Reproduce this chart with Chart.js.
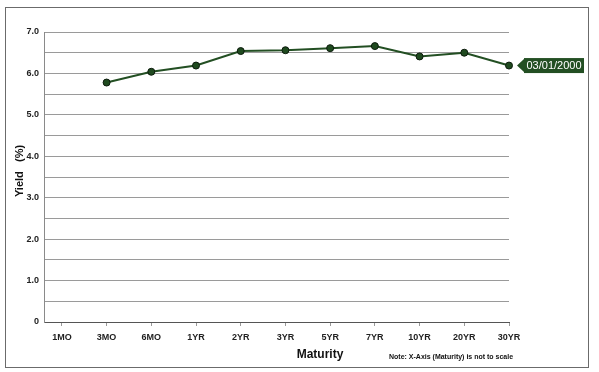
<!DOCTYPE html>
<html>
<head>
<meta charset="utf-8">
<script src="https://cdn.jsdelivr.net/npm/chart.js@4/dist/chart.umd.min.js"></script>
<style>
  html, body { margin: 0; padding: 0; background: #fff; }
  #wrap { width: 599px; height: 372px; position: relative; }
</style>
</head>
<body>
<div id="wrap"><canvas id="c" width="599" height="372"></canvas></div>
<script>
// yield curve values
const maturities = ['1MO', '3MO', '6MO', '1YR', '2YR', '3YR', '5YR', '7YR', '10YR', '20YR', '30YR'];
const yields = [null, 5.78, 6.04, 6.19, 6.54, 6.56, 6.61, 6.66, 6.41, 6.50, 6.19];
const yTicks = [0, 0.5, 1, 1.5, 2, 2.5, 3, 3.5, 4, 4.5, 5, 5.5, 6, 6.5, 7];
const seriesLabel = '03/01/2000';

const points = [];
maturities.forEach((m, i) => {
  if (yields[i] !== null) points.push({ x: i, y: yields[i] });
});

const green = '#234f23';

const decor = {
  id: 'decor',
  afterDraw(chart) {
    const ctx = chart.ctx;
    ctx.save();
    // outer frame
    ctx.strokeStyle = '#6b6b6b';
    ctx.lineWidth = 1;
    ctx.strokeRect(5.5, 7.5, 583, 360);

    // axis titles
    ctx.fillStyle = '#111';
    ctx.font = 'bold 12px Arial, "Liberation Sans", sans-serif';
    ctx.textAlign = 'center';
    ctx.textBaseline = 'middle';
    ctx.fillText('Maturity', 320, 355);

    ctx.font = 'bold 7px Arial, "Liberation Sans", sans-serif';
    ctx.textAlign = 'left';
    ctx.fillText('Note: X-Axis (Maturity) is not to scale', 389, 357);

    ctx.save();
    ctx.translate(20, 171);
    ctx.rotate(-Math.PI / 2);
    ctx.font = 'bold 11px Arial, "Liberation Sans", sans-serif';
    ctx.textAlign = 'center';
    ctx.fillText('Yield   (%)', 0, 0);
    ctx.restore();

    // series label at the last point
    const meta = chart.getDatasetMeta(0);
    const last = meta.data[meta.data.length - 1];
    const px = last.x, py = last.y;
    const bx = 524, bw = 60, bh = 15;
    const by = py - bh / 2;
    ctx.fillStyle = green;
    ctx.beginPath();
    ctx.moveTo(px + 8, py);
    ctx.lineTo(bx, by + 1);
    ctx.lineTo(bx, by + bh - 1);
    ctx.closePath();
    ctx.fill();
    ctx.fillRect(bx, by, bw, bh);
    ctx.fillStyle = '#fff';
    ctx.font = '11px Arial, "Liberation Sans", sans-serif';
    ctx.textAlign = 'center';
    ctx.textBaseline = 'middle';
    ctx.fillText(seriesLabel, bx + bw / 2, py + 0.5);
    ctx.restore();
  }
};

new Chart(document.getElementById('c'), {
  type: 'line',
  data: {
    datasets: [{
      label: seriesLabel,
      data: points,
      borderColor: green,
      borderWidth: 2,
      backgroundColor: '#1f4a1f',
      pointBorderColor: '#0b1a0b',
      pointBorderWidth: 1,
      pointRadius: 3.5,
      tension: 0,
      clip: false
    }]
  },
  options: {
    responsive: false,
    animation: false,
    layout: { padding: { left: 0, right: 90, top: 32, bottom: 0 } },
    plugins: { legend: { display: false }, tooltip: { enabled: false } },
    scales: {
      x: {
        type: 'linear',
        min: -0.4,
        max: 10,
        afterBuildTicks(axis) {
          axis.ticks = maturities.map((m, i) => ({ value: i }));
        },
        afterFit(axis) { axis.height = 50; },
        grid: { drawOnChartArea: false, drawTicks: true, tickLength: 4, color: '#999' },
        border: { color: '#555', width: 1 },
        ticks: {
          autoSkip: false,
          maxRotation: 0,
          padding: 6,
          color: '#222',
          font: { family: 'Arial, "Liberation Sans", sans-serif', size: 9, weight: 'bold' },
          callback: (v) => maturities[v]
        }
      },
      y: {
        min: 0,
        max: 7,
        afterBuildTicks(axis) {
          axis.ticks = yTicks.map(v => ({ value: v }));
        },
        afterFit(axis) { axis.width = 44; },
        grid: { color: '#9a9a9a', drawTicks: false },
        border: { color: '#8a8a8a', width: 1 },
        ticks: {
          padding: 5,
          color: '#222',
          font: { family: 'Arial, "Liberation Sans", sans-serif', size: 9, weight: 'bold' },
          callback: (v) => v === 0 ? '0' : (v % 1 === 0 ? v.toFixed(1) : '')
        }
      }
    }
  },
  plugins: [decor]
});
</script>
</body>
</html>
